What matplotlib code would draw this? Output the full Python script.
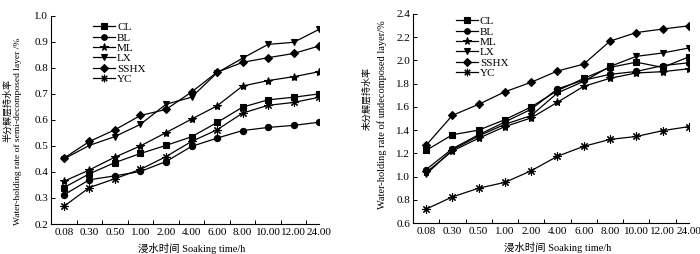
import matplotlib
matplotlib.use("Agg")
import matplotlib.pyplot as plt

plt.rcParams['font.family'] = ['Liberation Serif', 'Noto Sans CJK SC']

times = ["0.08", "0.30", "0.50", "1.00", "2.00", "4.00", "6.00", "8.00", "10.00", "12.00", "24.00"]
names = ["CL", "BL", "ML", "LX", "SSHX", "YC"]

# semi-decomposed layer
semi_cl = [0.34, 0.393, 0.436, 0.471, 0.502, 0.535, 0.59, 0.649, 0.677, 0.687, 0.70]
semi_bl = [0.312, 0.37, 0.385, 0.402, 0.44, 0.498, 0.53, 0.559, 0.571, 0.579, 0.591]
semi_ml = [0.364, 0.408, 0.457, 0.50, 0.551, 0.603, 0.654, 0.73, 0.751, 0.766, 0.785]
semi_lx = [0.45, 0.502, 0.536, 0.583, 0.66, 0.687, 0.781, 0.837, 0.89, 0.898, 0.948]
semi_sshx = [0.453, 0.517, 0.562, 0.617, 0.64, 0.707, 0.783, 0.821, 0.839, 0.855, 0.884]
semi_yc = [0.268, 0.34, 0.374, 0.41, 0.459, 0.517, 0.562, 0.626, 0.656, 0.667, 0.687]

# undecomposed layer
un_cl = [1.225, 1.36, 1.40, 1.49, 1.60, 1.74, 1.845, 1.94, 1.985, 1.94, 2.03]
un_bl = [1.06, 1.24, 1.36, 1.47, 1.58, 1.755, 1.83, 1.88, 1.905, 1.955, 1.98]
un_ml = [1.035, 1.22, 1.33, 1.43, 1.505, 1.64, 1.777, 1.846, 1.892, 1.903, 1.928]
un_lx = [1.02, 1.23, 1.35, 1.45, 1.525, 1.72, 1.82, 1.948, 2.035, 2.064, 2.107]
un_sshx = [1.27, 1.527, 1.622, 1.73, 1.812, 1.909, 1.968, 2.166, 2.24, 2.27, 2.298]
un_yc = [0.72, 0.825, 0.90, 0.95, 1.05, 1.175, 1.26, 1.32, 1.345, 1.395, 1.43]

markers = ['s', 'o', '*', 'v', 'D', (8, 2, 0)]
msizes = [4.5, 4.5, 6, 5, 4.5, 6]

fig = plt.figure(figsize=(7, 2.54), dpi=100)
ax1 = fig.add_axes([0.073, 0.118, 0.383, 0.82])
ax2 = fig.add_axes([0.59, 0.122, 0.394, 0.823])


def draw(ax, series, ylim, yticks, leg_y):
    x = range(len(times))
    for s, name, m, ms in zip(series, names, markers, msizes):
        ax.plot(x, s, color='black', lw=0.9, marker=m, markersize=ms,
                markerfacecolor='black', markeredgecolor='black',
                markeredgewidth=0.8, label=name)
    ax.set_xlim(-0.5, len(times) - 1)
    ax.set_ylim(*ylim)
    ax.set_yticks(yticks)
    ax.set_yticklabels([f"{v:.1f}" for v in yticks], fontsize=8)
    ax.set_xticks(list(x))
    ax.set_xticklabels(times, fontsize=8)
    ax.tick_params(axis='x', length=0, pad=3)
    ax.set_xticks([i - 0.5 for i in x] + [len(times) - 1], minor=True)
    ax.tick_params(axis='x', which='minor', direction='in', length=3, width=0.7)
    ax.tick_params(axis='y', direction='in', length=3, width=0.7, pad=2)
    for sp in ['top', 'right']:
        ax.spines[sp].set_visible(False)
    for sp in ['left', 'bottom']:
        ax.spines[sp].set_linewidth(0.8)
    ax.set_xlabel("浸水时间 Soaking time/h", fontsize=7.5, labelpad=1)
    ax.xaxis.set_label_coords(0.525, -0.09)
    ax.legend(loc='upper left', bbox_to_anchor=(0.13, leg_y), frameon=False,
              fontsize=8, handlelength=2.0, handletextpad=0.2,
              labelspacing=0.05, borderpad=0.1, markerscale=0.9)


draw(ax1, [semi_cl, semi_bl, semi_ml, semi_lx, semi_sshx, semi_yc],
     (0.2, 1.0), [0.2, 0.3, 0.4, 0.5, 0.6, 0.7, 0.8, 0.9, 1.0], 1.0)
draw(ax2, [un_cl, un_bl, un_ml, un_lx, un_sshx, un_yc],
     (0.6, 2.4), [0.6, 0.8, 1.0, 1.2, 1.4, 1.6, 1.8, 2.0, 2.2, 2.4], 1.02)

# y labels: Chinese line and English line
fig.text(7.5 / 700, 1 - 110 / 254, "半分解层持水率", rotation=90,
         ha='center', va='center', fontsize=6.5)
fig.text(18.5 / 700, 1 - 131 / 254, "Water-holding rate of semi-decomposed layer /%",
         rotation=90, ha='center', va='center', fontsize=6.8)
fig.text(367 / 700, 1 - 99 / 254, "未分解层持水率", rotation=90,
         ha='center', va='center', fontsize=6.5)
fig.text(382 / 700, 1 - 115 / 254, "Water-holding rate of undecomposed layer/%",
         rotation=90, ha='center', va='center', fontsize=7.5)

fig.savefig("out.png", dpi=100)
